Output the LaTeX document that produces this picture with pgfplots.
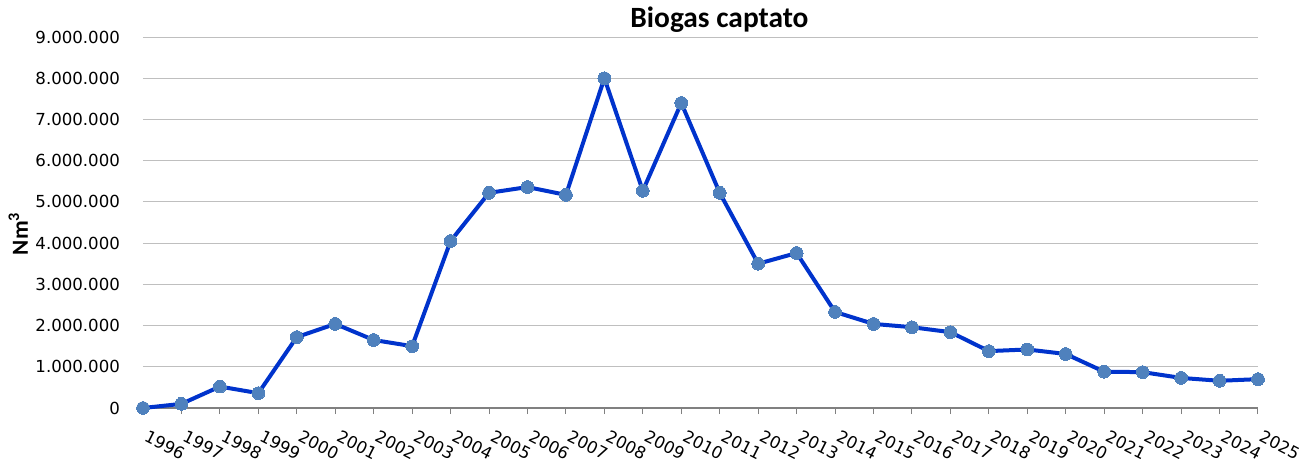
\documentclass[border=0pt]{standalone}
\usepackage{fontspec}
\setmainfont{DejaVu Sans}
\newfontfamily\carlito{Carlito}
\usepackage{pgfplots}
\pgfplotsset{compat=1.18}
\definecolor{linecol}{HTML}{0033CC}
\definecolor{markcol}{HTML}{4F81BD}
\definecolor{gridcol}{HTML}{BFBFBF}
\definecolor{axiscol}{HTML}{808080}
\begin{document}
\begin{tikzpicture}
\begin{axis}[
  at={(0,0)}, anchor=south west,
  scale only axis, width=557.5pt, height=185.5pt,
  xmin=1996, xmax=2025, ymin=0, ymax=9000000,
  clip=false,
  axis x line*=bottom,
  axis y line*=left,
  x axis line style={draw=axiscol, line width=0.6pt, -},
  y axis line style={draw=none},
  ytick={0,1000000,...,9000000},
  ymajorgrids, grid style={gridcol, line width=0.5pt},
  xtick={1996,...,2025},
  tick align=outside,
  xtick style={draw=axiscol, line width=0.5pt},
  ytick style={draw=none},
  major tick length=3pt,
  scaled y ticks=false,
  font=\fontsize{8.3}{10}\selectfont,
  /pgf/number format/assume math mode=true,
  xticklabel style={/pgf/number format/1000 sep={}, rotate=-27, anchor=north west, inner sep=1pt, yshift=-4.5pt, xshift=5pt},
  yticklabel style={xshift=-5pt, /pgf/number format/fixed, /pgf/number format/precision=0, /pgf/number format/1000 sep={.}},
  ylabel={\carlito\bfseries\fontsize{11.5}{13}\selectfont Nm\textsuperscript{3}},
  ylabel style={at={(axis description cs:-0.112,0.47)}, anchor=center, rotate=0},
  title={\carlito\bfseries\fontsize{14.7}{16}\selectfont Biogas captato},
  title style={at={(axis description cs:0.517,1.0243)}, anchor=base, yshift=-6pt},
]
\addplot[color=linecol, line width=2pt, mark=*, mark size=3.2pt,
  mark options={fill=markcol, draw=markcol, line width=0pt}] coordinates {
(1996,0) (1997,100000) (1998,520000) (1999,360000) (2000,1720000)
(2001,2040000) (2002,1650000) (2003,1500000) (2004,4050000) (2005,5220000)
(2006,5360000) (2007,5170000) (2008,8000000) (2009,5270000) (2010,7400000)
(2011,5220000) (2012,3500000) (2013,3760000) (2014,2330000) (2015,2040000)
(2016,1960000) (2017,1840000) (2018,1380000) (2019,1420000) (2020,1310000)
(2021,880000) (2022,870000) (2023,730000) (2024,660000) (2025,700000)
};
\end{axis}
\pgfresetboundingbox
\path[use as bounding box] (-71.5pt,-29pt) rectangle (584pt,204pt);
\end{tikzpicture}
\end{document}
